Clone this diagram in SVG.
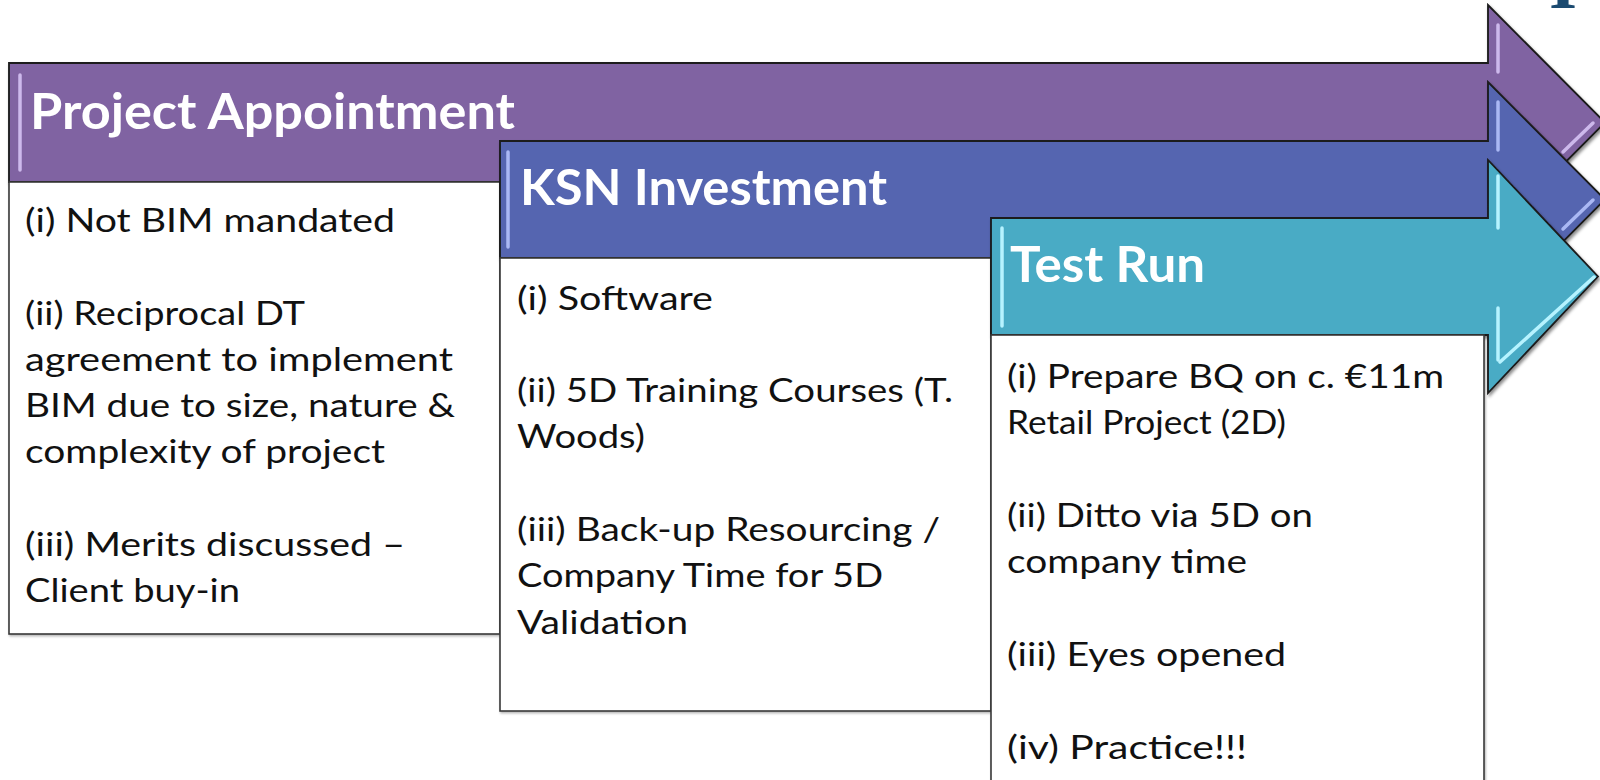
<svg xmlns="http://www.w3.org/2000/svg" width="1600" height="780" viewBox="0 0 1600 780">
  <defs>
    <filter id="shadow" x="-5%" y="-5%" width="110%" height="120%">
      <feDropShadow dx="1.5" dy="2.5" stdDeviation="1.5" flood-color="#000" flood-opacity="0.45"/>
    </filter>
    <filter id="boxshadow" x="-5%" y="-5%" width="110%" height="110%">
      <feDropShadow dx="1" dy="1.5" stdDeviation="1" flood-color="#000" flood-opacity="0.3"/>
    </filter>
  </defs>
  <style>
    .arrow { stroke: #1a1a1a; stroke-width: 1.8; stroke-linejoin: miter; filter: url(#shadow); }
    .purple { fill: #8064a2; }
    .blue { fill: #5565b0; }
    .teal { fill: #4aabc5; }
    .hl { fill: none; stroke-width: 3.5; stroke-linecap: round; }
    .hl-p { stroke: #cdb9ec; }
    .hl-b { stroke: #aab8f4; }
    .hl-t { stroke: #b6f3ff; }
    .box { fill: #ffffff; stroke: #3a3a3a; stroke-width: 1.6; filter: url(#boxshadow); }
    .head { font-family: Lato, "Open Sans", "Liberation Sans", sans-serif; font-weight: 700; font-size: 50px; fill: #ffffff; }
    .body { font-family: Lato, "Open Sans", "Liberation Sans", sans-serif; font-size: 33px; fill: #111111; }
    .logo { font-family: "Liberation Serif", serif; font-weight: 700; font-size: 72px; fill: #1b4a70; }
  </style>

  <text class="logo" x="1563" y="8" text-anchor="middle">I</text>

  <g id="project-appointment">
    <path class="arrow purple" d="M9,63 H1488 V5 L1605,122.5 L1488,240 V182 H9 Z"/>
    <line class="hl hl-p" x1="20" y1="75" x2="20" y2="170"/>
    <line class="hl hl-p" x1="1498" y1="25" x2="1498" y2="72"/>
    <line class="hl hl-p" x1="1563" y1="152" x2="1593" y2="123"/>
    <text class="head" x="30" y="129" textLength="485" lengthAdjust="spacingAndGlyphs">Project Appointment</text>
    <rect class="box" x="9" y="182" width="491" height="452"/>
    <g class="body">
      <text x="25" y="232" textLength="370" lengthAdjust="spacingAndGlyphs">(i) Not BIM mandated</text>
      <text x="25" y="325" textLength="280" lengthAdjust="spacingAndGlyphs">(ii) Reciprocal DT</text>
      <text x="25" y="371" textLength="428" lengthAdjust="spacingAndGlyphs">agreement to implement</text>
      <text x="25" y="417" textLength="430" lengthAdjust="spacingAndGlyphs">BIM due to size, nature &amp;</text>
      <text x="25" y="463" textLength="360" lengthAdjust="spacingAndGlyphs">complexity of project</text>
      <text x="25" y="556" textLength="380" lengthAdjust="spacingAndGlyphs">(iii) Merits discussed –</text>
      <text x="25" y="602" textLength="215" lengthAdjust="spacingAndGlyphs">Client buy-in</text>
    </g>
  </g>

  <g id="ksn-investment">
    <path class="arrow blue" d="M500,141 H1488 V82 L1605,199.5 L1488,317 V258 H500 Z"/>
    <line class="hl hl-b" x1="508" y1="152" x2="508" y2="247"/>
    <line class="hl hl-b" x1="1498" y1="102" x2="1498" y2="150"/>
    <line class="hl hl-b" x1="1563" y1="229" x2="1593" y2="200"/>
    <text class="head" x="520" y="205" textLength="367" lengthAdjust="spacingAndGlyphs">KSN Investment</text>
    <rect class="box" x="500" y="258" width="491" height="453"/>
    <g class="body">
      <text x="517" y="310" textLength="196" lengthAdjust="spacingAndGlyphs">(i) Software</text>
      <text x="517" y="402" textLength="436" lengthAdjust="spacingAndGlyphs">(ii) 5D Training Courses (T.</text>
      <text x="517" y="448" textLength="128" lengthAdjust="spacingAndGlyphs">Woods)</text>
      <text x="517" y="541" textLength="423" lengthAdjust="spacingAndGlyphs">(iii) Back-up Resourcing /</text>
      <text x="517" y="587" textLength="366" lengthAdjust="spacingAndGlyphs">Company Time for 5D</text>
      <text x="517" y="634" textLength="171" lengthAdjust="spacingAndGlyphs">Validation</text>
    </g>
  </g>

  <g id="test-run">
    <path class="arrow teal" d="M991,218 H1488 V160 L1598,276.5 L1488,393 V335 H991 Z"/>
    <line class="hl hl-t" x1="1002" y1="228" x2="1002" y2="326"/>
    <line class="hl hl-t" x1="1498" y1="176" x2="1498" y2="228"/>
    <line class="hl hl-t" x1="1498" y1="308" x2="1498" y2="360"/>
    <line class="hl hl-t" x1="1500" y1="362" x2="1594" y2="277"/>
    <text class="head" x="1010" y="282" textLength="195" lengthAdjust="spacingAndGlyphs">Test Run</text>
    <rect class="box" x="991" y="335" width="493" height="470"/>
    <g class="body">
      <text x="1007" y="388" textLength="437" lengthAdjust="spacingAndGlyphs">(i) Prepare BQ on c. €11m</text>
      <text x="1007" y="434" textLength="279" lengthAdjust="spacingAndGlyphs">Retail Project (2D)</text>
      <text x="1007" y="527" textLength="306" lengthAdjust="spacingAndGlyphs">(ii) Ditto via 5D on</text>
      <text x="1007" y="573" textLength="240" lengthAdjust="spacingAndGlyphs">company time</text>
      <text x="1007" y="666" textLength="279" lengthAdjust="spacingAndGlyphs">(iii) Eyes opened</text>
      <text x="1007" y="759" textLength="240" lengthAdjust="spacingAndGlyphs">(iv) Practice!!!</text>
    </g>
  </g>

  <g id="connectors"></g>
</svg>
